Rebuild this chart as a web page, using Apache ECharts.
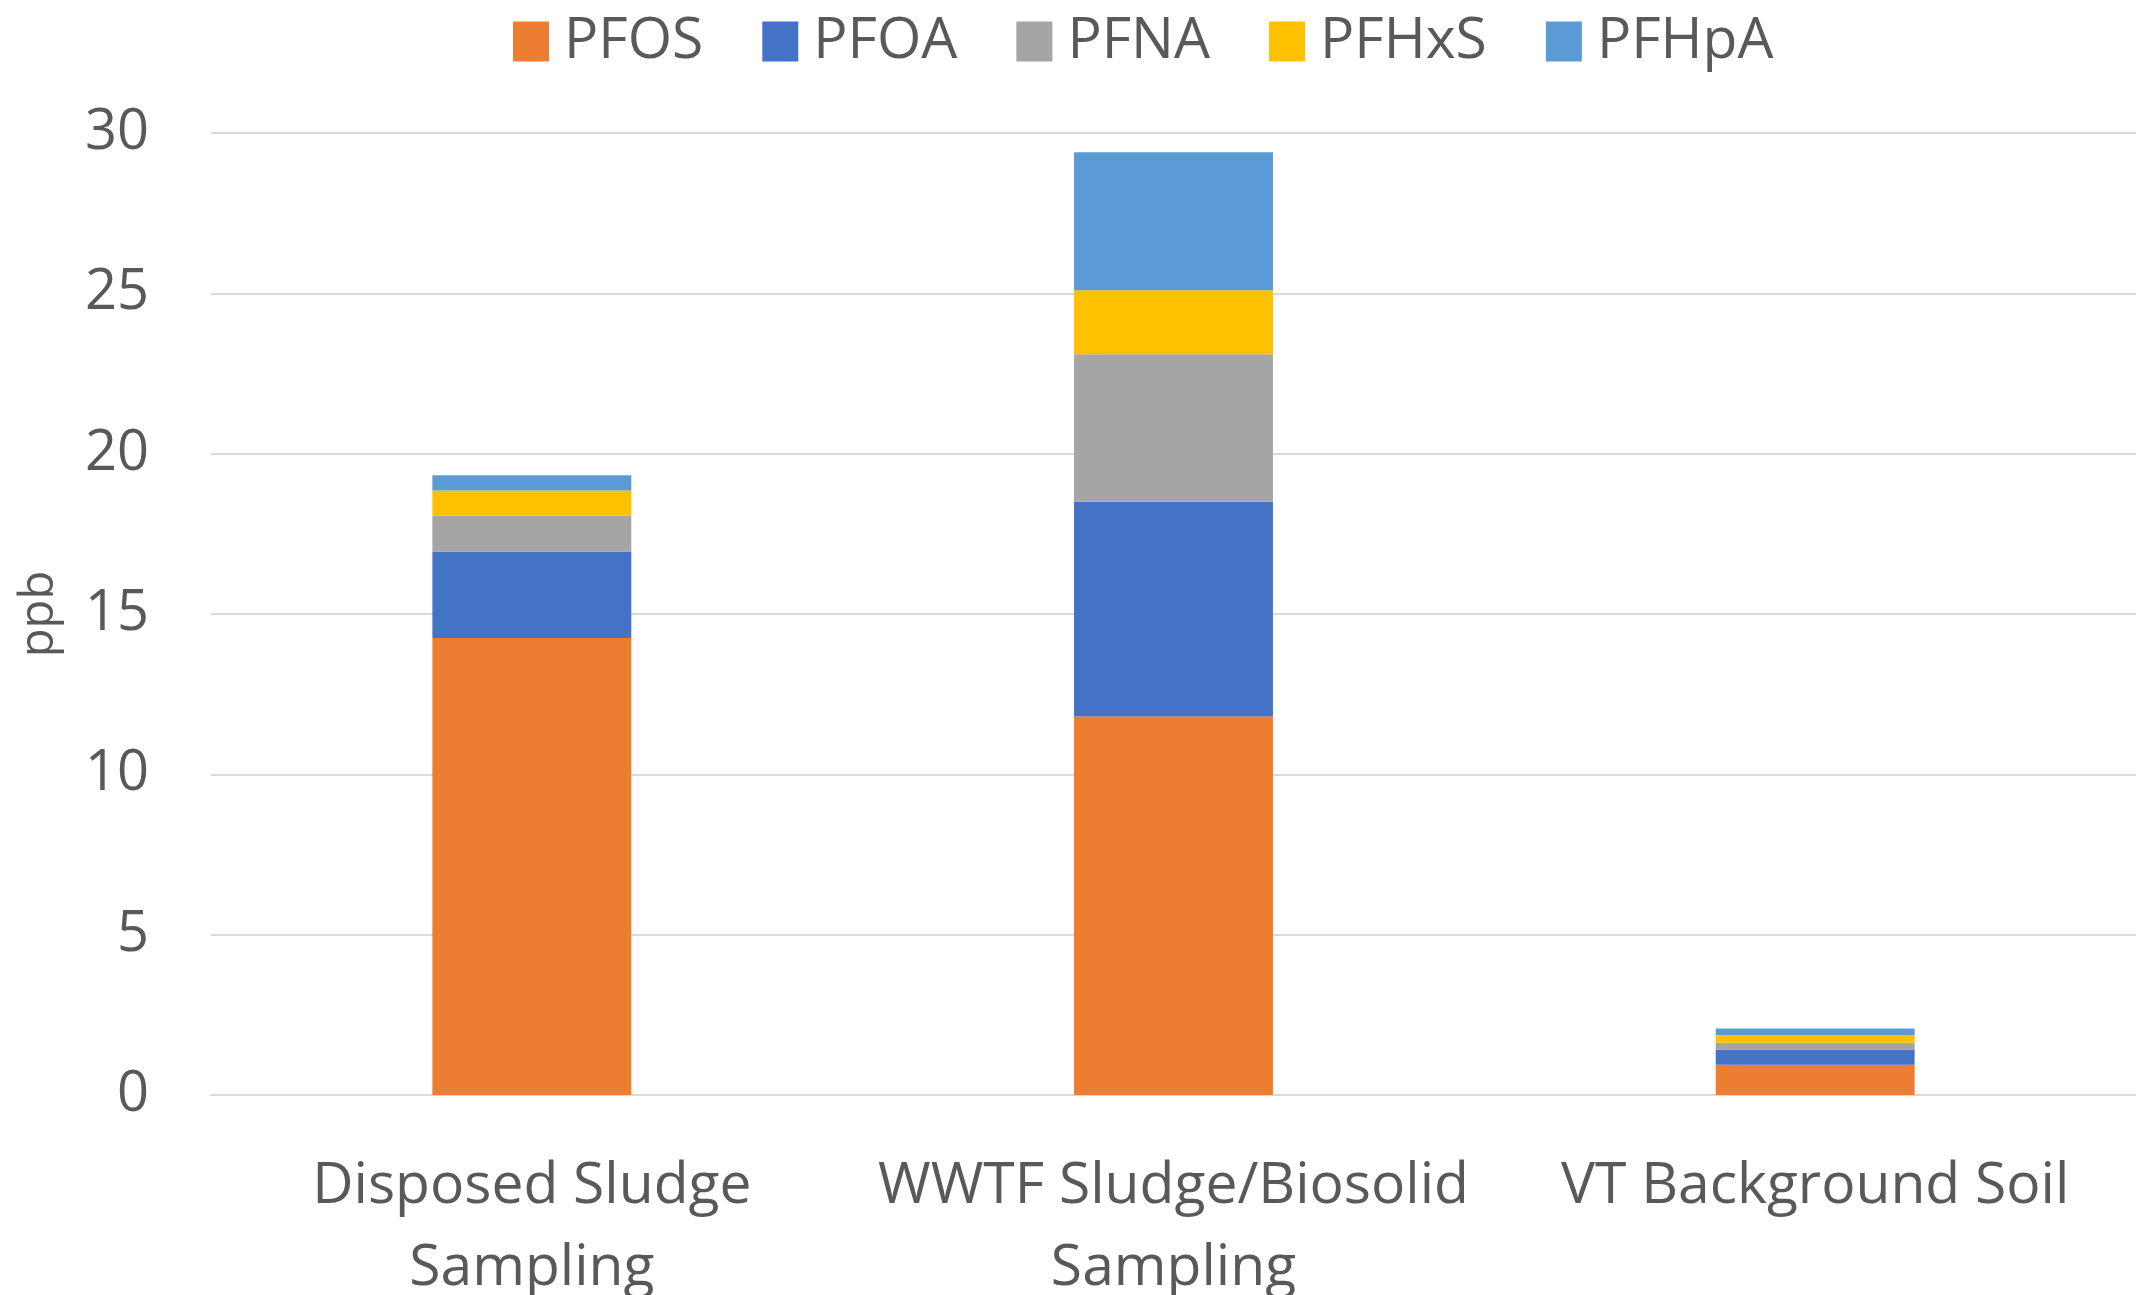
<!DOCTYPE html>
<html>
<head>
<meta charset="utf-8">
<script src="https://cdn.jsdelivr.net/npm/echarts@6/dist/echarts.min.js"></script>
<style>
  html, body { margin: 0; padding: 0; background: #fff; }
  #chart { width: 2136px; height: 1295px; }
</style>
</head>
<body>
<div id="chart"></div>
<script>
// categories & series values (ppb)
const categories = ["Disposed Sludge\nSampling", "WWTF Sludge/Biosolid\nSampling", "VT Background Soil"];
const pfos = [14.25, 11.8, 0.94];
const pfoa = [2.7, 6.7, 0.48];
const pfna = [1.12, 4.6, 0.21];
const pfhxs = [0.78, 2.0, 0.23];
const pfhpa = [0.48, 4.3, 0.21];
const yTicks = { min: 0, max: 30, interval: 5 };

const textColor = "#595959";
const fontFamily = "'Open Sans', 'Noto Sans', sans-serif";

const chart = echarts.init(document.getElementById("chart"));

function bar(name, data, color) {
  return {
    name: name,
    type: "bar",
    stack: "total",
    barWidth: "31%",
    itemStyle: { color: color },
    data: data
  };
}

chart.setOption({
  animation: false,
  textStyle: { fontFamily: fontFamily },
  legend: {
    left: 508,
    top: 8,
    itemWidth: 36,
    itemHeight: 40,
    itemGap: 59,
    icon: "rect",
    textStyle: { color: textColor, fontSize: 57, fontFamily: fontFamily, padding: [0, 0, 0, 10] },
    data: ["PFOS", "PFOA", "PFNA", "PFHxS", "PFHpA"]
  },
  grid: {
    left: 211,
    right: 0,
    top: 133,
    bottom: 200,
    outerBoundsMode: "none"
  },
  xAxis: {
    type: "category",
    data: categories,
    axisLine: { show: true, lineStyle: { color: "#d9d9d9", width: 2 } },
    axisTick: { show: false },
    axisLabel: {
      color: textColor,
      fontSize: 57,
      lineHeight: 82,
      margin: 51,
      interval: 0
    }
  },
  yAxis: {
    type: "value",
    min: yTicks.min,
    max: yTicks.max,
    interval: yTicks.interval,
    name: "ppb",
    nameLocation: "middle",
    nameGap: 148,
    nameTextStyle: { color: textColor, fontSize: 47 },
    axisLine: { show: false },
    axisTick: { show: false },
    axisLabel: { color: textColor, fontSize: 56, margin: 62 },
    splitLine: { lineStyle: { color: "#d9d9d9", width: 2 } }
  },
  series: [
    bar("PFOS", pfos, "#ED7D31"),
    bar("PFOA", pfoa, "#4472C4"),
    bar("PFNA", pfna, "#A5A5A5"),
    bar("PFHxS", pfhxs, "#FFC000"),
    bar("PFHpA", pfhpa, "#5B9BD5")
  ]
});
</script>
</body>
</html>
